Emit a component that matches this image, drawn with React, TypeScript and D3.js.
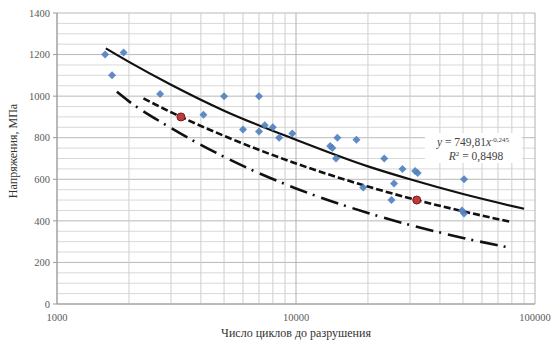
import * as d3 from 'd3';

// blue points: [cycles, stress MPa]
const testCycles = [1590, 1900, 1700, 2700, 4100, 5000, 6000, 7000, 7000, 7400, 8000, 8500, 9650, 13900, 14200, 14900, 14700, 17900, 19100, 23400, 25700, 25100, 27900, 31500, 32300, 50500, 49500, 50500];
const testStress = [1200, 1210, 1100, 1010, 910, 1000, 840, 1000, 830, 860, 850, 800, 820, 760, 750, 800, 700, 790, 560, 700, 580, 500, 650, 640, 630, 600, 450, 435];

// red points
const markCycles = [3300, 32000];
const markStress = [900, 500];

// curves
const trendCycles = [1600, 2000, 3000, 5000, 10000, 20000, 30000, 50000, 90000];
const trendStress = [1230, 1165, 1055, 930, 790, 662, 600, 529, 458];
const dashCycles = [2300, 3300, 5000, 10000, 20000, 32000, 50000, 80000];
const dashStress = [989, 900, 809, 676, 565, 500, 446, 394];
const dotCycles = [1780, 2000, 3000, 5000, 10000, 20000, 50000, 80000];
const dotStress = [1021, 975, 847, 708, 556, 438, 318, 269];

const yTicks = [0, 200, 400, 600, 800, 1000, 1200, 1400];
const xTicks = [1000, 10000, 100000];

const W = 554;
const H = 344;
const margin = { top: 13, right: 19, bottom: 40, left: 57 };
const serif = '"Liberation Serif", "DejaVu Serif", serif';

export default function App() {
	const x = d3.scaleLog().domain([1000, 100000]).range([margin.left, W - margin.right]);
	const y = d3.scaleLinear().domain([0, 1400]).range([H - margin.bottom, margin.top]);

	const minorY = d3.range(0, 1401, 50);
	const minorX: number[] = [];
	[1000, 10000].forEach((base) => {
		for (let k = 2; k <= 9; k++) minorX.push(base * k);
	});

	const line = d3
		.line<[number, number]>()
		.x((d) => x(d[0]))
		.y((d) => y(d[1]))
		.curve(d3.curveMonotoneX);

	const zip = (a: number[], b: number[]) => a.map((v, i) => [v, b[i]] as [number, number]);
	// square turned 45deg = Excel-style diamond
	const diamond = d3.symbol(d3.symbolSquare, 32)();

	return (
		<div style={{ position: 'fixed', left: 0, top: 0 }}>
			<svg width={W} height={H} style={{ display: 'block', background: '#fff' }}>
				{/* grid */}
				{minorY.map((v) => (
					<line key={'hy' + v} x1={margin.left} x2={W - margin.right} y1={y(v)} y2={y(v)}
						stroke={v % 200 === 0 ? '#b8b8b8' : '#d8d8d8'} strokeWidth={1} />
				))}
				{minorX.map((v) => (
					<line key={'vx' + v} x1={x(v)} x2={x(v)} y1={margin.top} y2={H - margin.bottom}
						stroke="#cfcfcf" strokeWidth={1} />
				))}
				{xTicks.map((v) => (
					<line key={'mx' + v} x1={x(v)} x2={x(v)} y1={margin.top} y2={H - margin.bottom}
						stroke="#b0b0b0" strokeWidth={1} />
				))}
				<line x1={margin.left} x2={W - margin.right} y1={y(0)} y2={y(0)} stroke="#9a9a9a" />
				<line x1={margin.left} x2={margin.left} y1={margin.top} y2={y(0)} stroke="#9a9a9a" />

				{/* y ticks */}
				{yTicks.map((v) => (
					<g key={'yt' + v}>
						<line x1={margin.left - 4} x2={margin.left} y1={y(v)} y2={y(v)} stroke="#9a9a9a" />
						<text x={margin.left - 7} y={y(v)} dy="0.35em" textAnchor="end" fontFamily={serif}
							fontSize={10.5} fill="#5a5a5a">{v}</text>
					</g>
				))}
				{xTicks.map((v) => (
					<text key={'xt' + v} x={x(v)} y={y(0) + 17} textAnchor="middle" fontFamily={serif}
						fontSize={10.5} fill="#5a5a5a">{v}</text>
				))}

				{/* curves */}
				<path d={line(zip(dotCycles, dotStress)) || ''} fill="none" stroke="#111" strokeWidth={2.6}
					strokeDasharray="18 6 2 7" />
				<path d={line(zip(dashCycles, dashStress)) || ''} fill="none" stroke="#111" strokeWidth={2.6}
					strokeDasharray="7 3" />
				<path d={line(zip(trendCycles, trendStress)) || ''} fill="none" stroke="#111" strokeWidth={2.2} />

				{/* points */}
				{testCycles.map((c, i) => (
					<path key={'p' + i} d={diamond} transform={`translate(${x(c)},${y(testStress[i])}) rotate(45)`}
						fill="#4f7fbf" opacity={0.9} />
				))}
				{markCycles.map((c, i) => (
					<circle key={'r' + i} cx={x(c)} cy={y(markStress[i])} r={4} fill="#c0393b" stroke="#7a1a1a" strokeWidth={1} />
				))}

				{/* equation label */}
				<rect x={425} y={133} width={97} height={30} fill="#fff" />
				<text x={473} y={146} textAnchor="middle" fontFamily={serif} fontSize={11.5} fill="#444">
					<tspan fontStyle="italic">y</tspan> = 749,81<tspan fontStyle="italic">x</tspan>
					<tspan dy={-4} fontSize={7}>-0,245</tspan>
				</text>
				<text x={476} y={160} textAnchor="middle" fontFamily={serif} fontSize={11.5} fill="#444">
					<tspan fontStyle="italic">R</tspan><tspan dy={-4} fontSize={7}>2</tspan><tspan dy={4}> = 0,8498</tspan>
				</text>

				{/* axis titles */}
				<text x={296} y={337} textAnchor="middle" fontFamily={serif} fontSize={12} fill="#333">
					Число циклов до разрушения
				</text>
				<text transform="translate(17,151) rotate(-90)" textAnchor="middle" fontFamily={serif} fontSize={12} fill="#333">
					Напряжения, МПа
				</text>
			</svg>
		</div>
	);
}
